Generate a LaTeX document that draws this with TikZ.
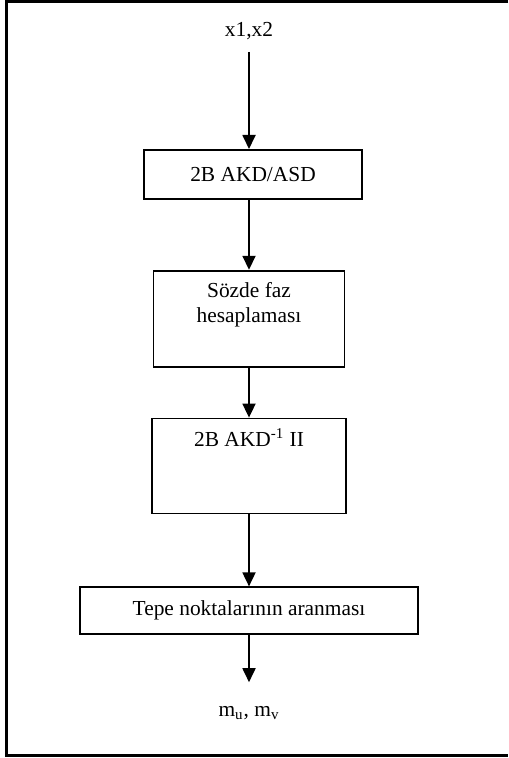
\documentclass[tikz,border=0pt]{standalone}
\usepackage{fontspec}
\setmainfont{Liberation Serif}
\usetikzlibrary{positioning,arrows.meta}

\begin{document}
\begin{tikzpicture}[x=1pt,y=1pt]
      \tikzstyle{block}=[rectangle,draw,line width=0.9pt,align=center,inner sep=0pt,font=\fontsize{10.7}{12.5}\selectfont]
      \tikzstyle{txt}=[font=\fontsize{10.7}{12.5}\selectfont]
      \tikzstyle{conn}=[-{Triangle[width=6.5pt,length=7pt]},line width=0.9pt]
      \useasboundingbox (0,0) rectangle (254,-379);
      % dis cerceve (sag kenar resmin disinda)
      \draw[line width=1.5pt] (254,-1) -- (3,-1) -- (3,-377.5) -- (254,-377.5);
      % girdi ve bloklar
      \node[txt,anchor=south,inner ysep=6pt] (in) at (124.5,-26) {x1,x2};
      \node[block,below=48.5pt of in,minimum width=109pt,minimum height=24.5pt,xshift=2pt] (b1) {2B AKD/ASD};
      \node[block,below=35pt of b1,minimum width=95.5pt,minimum height=48pt,xshift=-2pt] (b2) {Sözde faz\\hesaplaması\\\strut};
      \node[block,below=25pt of b2,minimum width=97pt,minimum height=47.5pt] (b3) {2B AKD\textsuperscript{-1} II\\\strut\\\strut};
      \node[block,below=36pt of b3,minimum width=169pt,minimum height=23.5pt] (b4) {Tepe noktalarının aranması};
      \node[txt,below=23.5pt of b4,inner ysep=12pt] (out) {m\textsubscript{u}, m\textsubscript{v}};
      % oklar
      \draw[conn] (in) -- (b1.north -| in);
      \draw[conn] (b1.south -| in) -- (b2.north -| in);
      \draw[conn] (b2.south -| in) -- (b3.north -| in);
      \draw[conn] (b3) -- (b4);
      \draw[conn] (b4) -- (out);
\end{tikzpicture}
\end{document}
